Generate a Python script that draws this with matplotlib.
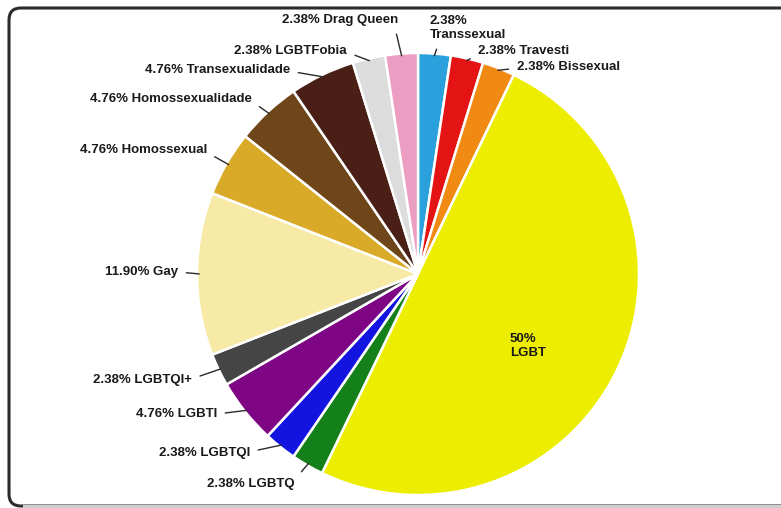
import numpy as np
import matplotlib.pyplot as plt
from matplotlib.patches import FancyBboxPatch

plt.rcParams['font.family'] = ['Liberation Sans', 'DejaVu Sans']

# fatias no sentido horário a partir do topo
labels = ['Transsexual', 'Travesti', 'Bissexual', 'LGBT', 'LGBTQ', 'LGBTQI',
          'LGBTI', 'LGBTQI+', 'Gay', 'Homossexual', 'Homossexualidade',
          'Transexualidade', 'LGBTFobia', 'Drag Queen']
pcts = [2.38, 2.38, 2.38, 50, 2.38, 2.38, 4.76, 2.38, 11.90, 4.76, 4.76,
        4.76, 2.38, 2.38]
colors = ['#2aa0dc', '#e41414', '#f08a12', '#eded00', '#13801a', '#1414e0',
          '#7e0684', '#454545', '#f6eaa6', '#d9aa28', '#6e4619', '#4a2016',
          '#dcdcdc', '#ec9ec2']

W, H = 781, 508


def P(x, y):
    # coordenadas em pixels (origem em cima) -> dados
    return (x, H - y)


# posição do texto: (x, y, ha, relpos da linha)
label_pos = {
    'Transsexual': (430, 28, 'left', (0.12, 0.0)),
    'Travesti': (478, 51, 'left', (0.0, 0.2)),
    'Bissexual': (517, 67, 'left', (0.0, 0.4)),
    'LGBTQ': (295, 484, 'right', (1.0, 0.9)),
    'LGBTQI': (250, 453, 'right', (1.0, 0.6)),
    'LGBTI': (217, 414, 'right', (1.0, 0.5)),
    'LGBTQI+': (192, 380, 'right', (1.0, 0.6)),
    'Gay': (178, 272, 'right', (1.0, 0.5)),
    'Homossexual': (207, 150, 'right', (1.0, 0.3)),
    'Homossexualidade': (252, 99, 'right', (1.0, 0.3)),
    'Transexualidade': (290, 70, 'right', (1.0, 0.4)),
    'LGBTFobia': (347, 51, 'right', (1.0, 0.4)),
    'Drag Queen': (398, 20, 'right', (0.97, 0.0)),
}

fig = plt.figure(figsize=(W / 100, H / 100), dpi=100)
ax = fig.add_axes([0, 0, 1, 1])

cx, cy = P(418, 274)
R = 221
wedges, _ = ax.pie(pcts, colors=colors, startangle=90, counterclock=False,
                   center=(cx, cy), radius=R,
                   wedgeprops=dict(edgecolor='white', linewidth=1.8))
ax.set_xlim(0, W)
ax.set_ylim(0, H)
ax.set_aspect('equal')
ax.axis('off')


def fmt(p):
    return f'{p:.0f}%' if float(p).is_integer() else f'{p:.2f}%'


for w, lab, p in zip(wedges, labels, pcts):
    if lab == 'LGBT':
        ax.text(*P(510, 346), f'{fmt(p)}\n{lab}', ha='left', va='center',
                fontsize=9.5, fontweight='bold', color='#1a1a1a', linespacing=1.3)
        continue
    ang = np.deg2rad((w.theta1 + w.theta2) / 2)
    xy = (cx + R * 0.99 * np.cos(ang), cy + R * 0.99 * np.sin(ang))
    tx, ty, ha, rp = label_pos[lab]
    txt = f'{fmt(p)}\n{lab}' if lab == 'Transsexual' else f'{fmt(p)} {lab}'
    ax.annotate(txt, xy=xy, xytext=P(tx, ty), ha=ha, va='center',
                fontsize=9.5, fontweight='bold', color='#1a1a1a',
                linespacing=1.25,
                arrowprops=dict(arrowstyle='-', color='#2a2a2a', lw=1.0,
                                shrinkA=4, shrinkB=0, relpos=rp))

# moldura arredondada
frame = FancyBboxPatch(P(9, 506), 820, 498,
                       boxstyle='round,pad=0,rounding_size=12',
                       fc='none', ec='#2b2b2b', lw=2.2, clip_on=False)
ax.add_patch(frame)
ax.plot([24, W], [H - 505.5, H - 505.5], color='#cfcfcf', lw=2.2)

fig.savefig('out.png', dpi=100, facecolor='white')
